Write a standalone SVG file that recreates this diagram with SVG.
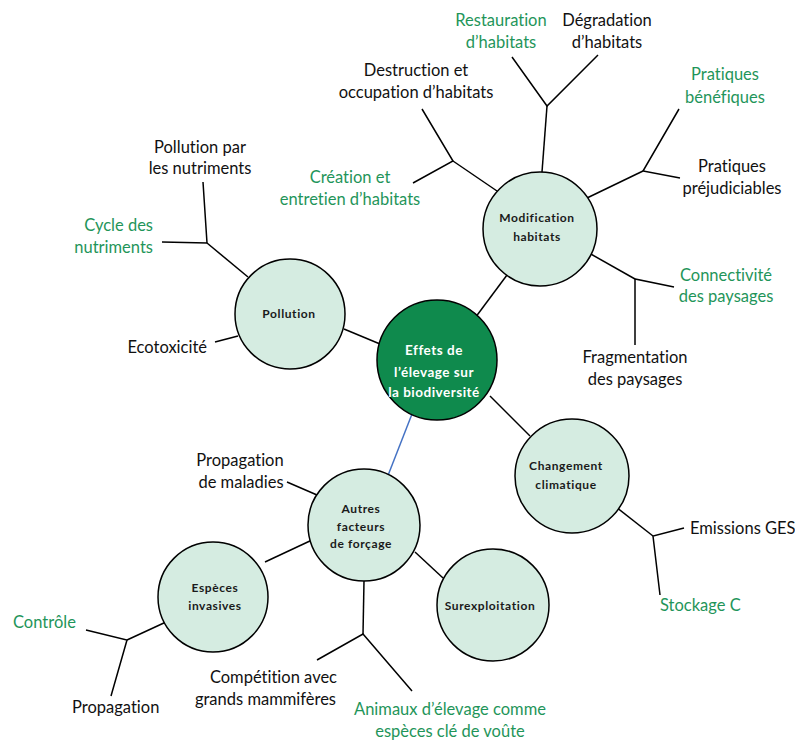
<svg xmlns="http://www.w3.org/2000/svg" width="795" height="740" viewBox="0 0 795 740">
<style>
text{font-variant-ligatures:none}
.n{fill:#d5ece1;stroke:#000;stroke-width:1.5}
.c{fill:#0f8a4d;stroke:#000;stroke-width:1.5}
.nt{font-family:Lato,"Liberation Sans",sans-serif;font-weight:bold;font-size:12px;fill:#1a1a1a;text-anchor:middle;letter-spacing:0.6px}
.ct{font-family:Lato,"Liberation Sans",sans-serif;font-weight:bold;font-size:13.5px;fill:#fff;text-anchor:middle;letter-spacing:0.5px}
.l{font-family:Lato,"Liberation Sans",sans-serif;font-size:16.5px;fill:#111}
.g{fill:#1f955a}
.m{text-anchor:middle}
.e{text-anchor:end}
#conn line,#conn polyline{stroke:#000;stroke-width:1.5;fill:none}
</style>
<rect width="795" height="740" fill="#fff"/>
<g id="conn">
<line x1="475" y1="318" x2="507" y2="275"/>
<line x1="344" y1="329" x2="380" y2="344"/>
<line x1="490" y1="396" x2="530" y2="436"/>
<line x1="412" y1="414" x2="387" y2="478" style="stroke:#4472c4"/>
<line x1="265" y1="562" x2="312" y2="540"/>
<line x1="415" y1="552" x2="443" y2="578"/>
<line x1="287" y1="482" x2="317" y2="495"/>
<polyline points="364,581 363,634"/>
<polyline points="317,660 363,634 412,691"/>
<polyline points="166,622 127,640"/>
<polyline points="86,630 127,640 111,696"/>
<line x1="215" y1="342" x2="238" y2="336"/>
<line x1="248" y1="277" x2="207" y2="243"/>
<polyline points="162,242 207,243 203,182"/>
<line x1="497" y1="191" x2="453" y2="161"/>
<polyline points="413,183 453,161 422,109"/>
<line x1="542" y1="172" x2="547" y2="106"/>
<polyline points="512,57 547,106 598,55"/>
<line x1="587" y1="198" x2="643" y2="171"/>
<polyline points="679,109 643,171 680,178"/>
<line x1="589" y1="253" x2="635" y2="279"/>
<polyline points="674,287 635,279 635,345"/>
<line x1="616" y1="507" x2="653" y2="536"/>
<polyline points="684,528 653,536 660,595"/>
</g>
<g id="n-center">
<circle class="c" cx="437" cy="360" r="60"/>
<text class="ct" x="434" y="355">Effets de</text>
<text class="ct" x="434" y="377">l’élevage sur</text>
<text class="ct" x="434" y="397">la biodiversité</text>
</g>
<g id="n-modif">
<circle class="n" cx="540" cy="229" r="57"/>
<text class="nt" x="537" y="222">Modification</text>
<text class="nt" x="537" y="241">habitats</text>
</g>
<g id="n-pollution">
<circle class="n" cx="290" cy="314" r="55"/>
<text class="nt" x="289" y="318">Pollution</text>
</g>
<g id="n-climat">
<circle class="n" cx="572" cy="476" r="57"/>
<text class="nt" x="566" y="470">Changement</text>
<text class="nt" x="566" y="489">climatique</text>
</g>
<g id="n-autres">
<circle class="n" cx="364" cy="525" r="56"/>
<text class="nt" x="361" y="513">Autres</text>
<text class="nt" x="361" y="531">facteurs</text>
<text class="nt" x="361" y="548">de forçage</text>
</g>
<g id="n-invasives">
<circle class="n" cx="213" cy="597" r="55"/>
<text class="nt" x="215" y="592">Espèces</text>
<text class="nt" x="215" y="610">invasives</text>
</g>
<g id="n-surexpl">
<circle class="n" cx="493" cy="605" r="56"/>
<text class="nt" x="490" y="610">Surexploitation</text>
</g>
<g id="labels">
<text class="l g m" x="501" y="26">Restauration</text>
<text class="l g m" x="501" y="48">d’habitats</text>
<text class="l m" x="607" y="26">Dégradation</text>
<text class="l m" x="607" y="48">d’habitats</text>
<text class="l m" x="416" y="76">Destruction et</text>
<text class="l m" x="416" y="98">occupation d’habitats</text>
<text class="l g m" x="350" y="183">Création et</text>
<text class="l g m" x="350" y="205">entretien d’habitats</text>
<text class="l g m" x="725" y="80">Pratiques</text>
<text class="l g m" x="725" y="103">bénéfiques</text>
<text class="l m" x="732" y="172">Pratiques</text>
<text class="l m" x="732" y="194">préjudiciables</text>
<text class="l g m" x="726" y="281">Connectivité</text>
<text class="l g m" x="726" y="302">des paysages</text>
<text class="l m" x="635" y="363">Fragmentation</text>
<text class="l m" x="635" y="385">des paysages</text>
<text class="l m" x="200" y="153">Pollution par</text>
<text class="l m" x="200" y="174">les nutriments</text>
<text class="l g e" x="153" y="231">Cycle des</text>
<text class="l g e" x="153" y="253">nutriments</text>
<text class="l e" x="207" y="353">Ecotoxicité</text>
<text class="l" x="690" y="534">Emissions GES</text>
<text class="l g" x="660" y="611">Stockage C</text>
<text class="l m" x="240" y="466">Propagation</text>
<text class="l m" x="241" y="488">de maladies</text>
<text class="l e" x="337" y="683">Compétition avec</text>
<text class="l e" x="336" y="705">grands mammifères</text>
<text class="l g m" x="450" y="715">Animaux d’élevage comme</text>
<text class="l g m" x="450" y="737">espèces clé de voûte</text>
<text class="l g" x="13" y="628">Contrôle</text>
<text class="l" x="72" y="713">Propagation</text>
</g>
</svg>
